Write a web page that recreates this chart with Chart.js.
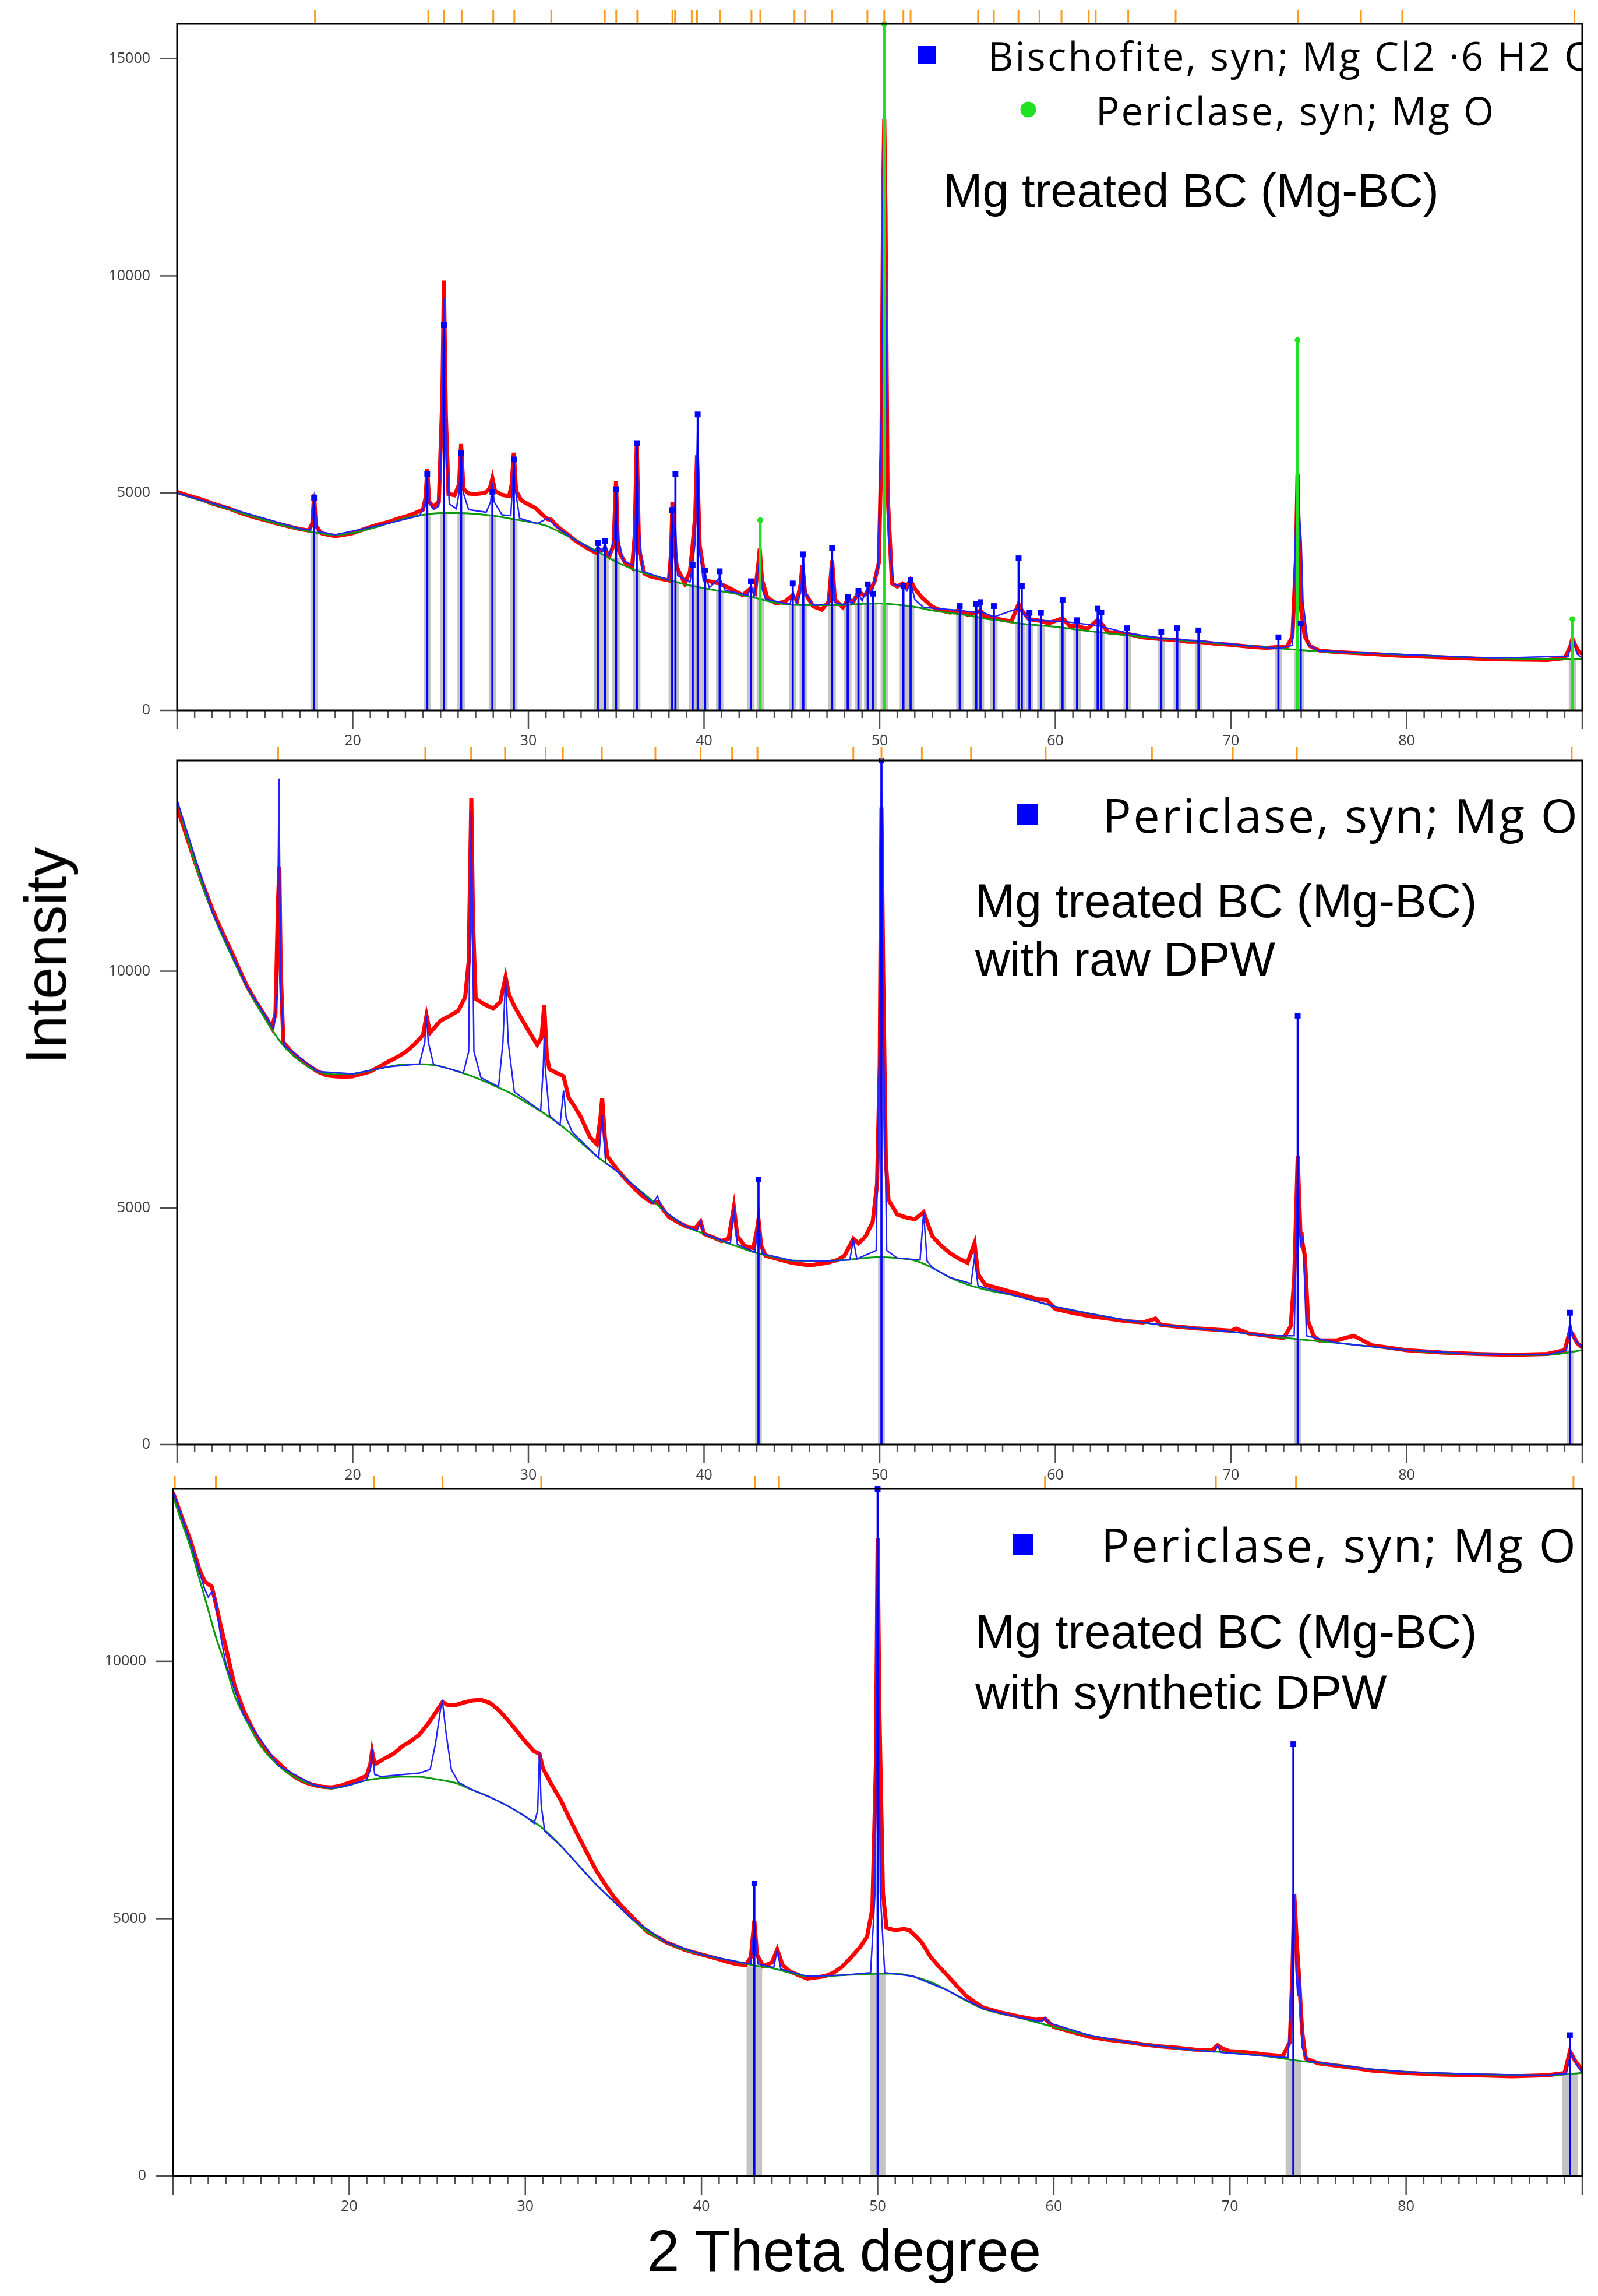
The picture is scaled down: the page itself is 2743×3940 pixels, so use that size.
<!DOCTYPE html>
<html>
<head>
<meta charset="utf-8">
<script src="https://cdn.jsdelivr.net/npm/chart.js@4.4.1/dist/chart.umd.min.js"></script>
<style>
  html, body { margin: 0; padding: 0; background: #fff; }
  #page { position: relative; width: 2743px; height: 3940px; overflow: hidden; background: #fff; }
  #page canvas { position: absolute; left: 0; }
  .title { position: absolute; font-family: 'Liberation Sans', Arial, sans-serif; font-size: 100px; color: #000; white-space: nowrap; line-height: 1; }
  #ytitle { left: 78px; top: 1640px; transform: translate(-50%, -50%) rotate(-90deg); }
  #xtitle { left: 1449px; top: 3812px; transform: translateX(-50%); }
</style>
</head>
<body>
<div id="page">
  <canvas id="xrd1"></canvas>
  <canvas id="xrd2"></canvas>
  <canvas id="xrd3"></canvas>
  <div class="title" id="ytitle">Intensity</div>
  <div class="title" id="xtitle">2 Theta degree</div>
</div>
<script>
// ---- panel 1 : Mg treated BC ----
var p1Obs = [[10,5030],[10.5,4960],[11,4900],[11.5,4840],[12,4760],[12.5,4700],[13,4640],[13.5,4560],[14,4490],[14.5,4430],[15,4380],[15.5,4320],[16,4270],[16.5,4220],[17,4170],[17.5,4140],[17.7,4300],[17.8,4970],[17.9,4250],[18.2,4080],[18.5,4050],[19,4010],[19.5,4040],[20,4080],[20.5,4150],[21,4220],[21.5,4280],[22,4330],[22.5,4400],[23,4460],[23.5,4530],[24,4620],[24.15,4900],[24.24,5560],[24.35,4800],[24.6,4680],[24.9,4800],[25.1,7200],[25.19,9890],[25.3,6800],[25.45,4980],[25.8,4950],[26.05,5200],[26.17,6130],[26.3,5100],[26.6,4990],[27,4980],[27.5,5000],[27.8,5100],[27.95,5340],[28.1,5050],[28.5,4960],[28.9,4930],[29.05,5200],[29.17,5930],[29.3,5050],[29.6,4830],[30,4740],[30.4,4660],[30.8,4500],[31.1,4400],[31.3,4390],[31.6,4250],[32,4120],[32.3,4030],[32.7,3900],[33.1,3800],[33.5,3700],[33.9,3620],[34.1,3680],[34.33,3700],[34.6,3550],[34.85,3800],[34.99,5280],[35.1,3700],[35.5,3400],[35.9,3280],[36.05,4000],[36.17,6170],[36.3,3700],[36.6,3150],[36.9,3090],[37.4,3040],[38,2990],[38.12,3600],[38.2,4790],[38.3,3800],[38.45,3300],[38.9,2920],[39.2,3200],[39.35,3800],[39.5,4500],[39.6,5870],[39.75,3800],[40.06,3000],[40.5,2950],[40.89,2920],[41.5,2800],[42.2,2650],[42.64,2800],[42.9,2700],[43.1,3400],[43.17,3720],[43.3,3000],[43.6,2600],[44.1,2460],[44.6,2500],[45.05,2650],[45.3,2520],[45.5,2900],[45.6,3350],[45.75,2700],[46.2,2400],[46.7,2320],[47.1,2500],[47.29,3450],[47.45,2550],[47.9,2370],[48.2,2550],[48.5,2500],[48.8,2730],[49.1,2650],[49.4,2730],[49.7,2950],[49.95,3400],[50.1,6000],[50.2,12000],[50.26,13600],[50.33,11500],[50.45,5000],[50.7,2920],[51,2850],[51.3,2920],[51.55,2850],[51.75,3000],[52,2800],[52.4,2600],[53,2380],[53.5,2300],[54,2250],[54.56,2300],[55,2200],[55.5,2250],[55.74,2300],[56,2150],[56.5,2130],[57,2080],[57.5,2050],[57.91,2450],[58.09,2300],[58.5,2100],[59.18,2060],[59.6,2000],[60.41,2120],[60.8,1950],[61.24,1950],[61.8,1870],[62.41,2080],[62.62,2000],[63,1800],[64.09,1760],[65,1680],[66.03,1640],[66.94,1620],[67.5,1580],[68.15,1580],[69,1540],[70,1510],[71,1470],[72,1440],[72.7,1460],[73.2,1470],[73.5,1700],[73.7,3500],[73.79,5450],[73.9,3200],[74,2300],[74.2,1700],[74.5,1480],[75,1380],[76,1340],[77,1320],[78,1300],[79,1270],[80,1250],[82,1220],[84,1190],[86,1170],[88,1160],[89,1200],[89.3,1450],[89.44,1650],[89.6,1500],[89.8,1350],[90,1300]];
var p1Bg = [[10,5000],[12,4750],[14,4500],[16,4260],[18,4080],[19,4040],[20,4080],[21,4180],[22,4300],[23,4420],[24,4500],[25,4540],[26,4540],[27,4520],[28,4480],[29,4410],[30,4340],[31,4250],[32,4060],[33,3860],[34,3640],[35,3420],[36,3240],[37,3110],[38,3000],[39,2890],[40,2810],[41,2740],[42,2670],[43,2580],[44,2480],[45,2430],[46,2420],[47,2420],[48,2425],[49,2450],[50,2460],[51,2430],[52,2380],[53,2300],[54,2240],[55,2190],[56,2110],[57,2060],[58,2000],[60,1925],[62,1820],[65,1690],[70,1520],[75,1360],[80,1280],[85,1200],[90,1175]];
var p1Fit = [[10,5000],[17,4180],[17.6,4150],[17.8,4900],[18,4120],[19,4040],[22,4300],[23.8,4480],[24.1,4700],[24.24,5400],[24.35,4800],[24.6,4620],[24.9,4700],[25.05,6000],[25.19,9500],[25.32,6000],[25.5,4750],[25.9,4640],[26.05,5000],[26.17,5900],[26.3,5000],[26.6,4620],[27.6,4560],[27.85,4800],[27.95,5250],[28.05,4800],[28.5,4500],[29,4480],[29.1,5200],[29.17,5800],[29.25,5100],[29.5,4420],[30.5,4300],[31.1,4420],[31.5,4250],[32.5,3960],[33.8,3660],[33.95,3800],[34.2,3650],[34.36,3850],[34.6,3560],[34.9,4000],[34.99,5100],[35.1,4000],[35.4,3450],[36,3330],[36.1,4500],[36.17,6000],[36.25,4500],[36.5,3200],[38,3000],[38.15,4300],[38.2,4700],[38.3,4000],[38.37,4300],[38.5,3100],[39.2,2950],[39.35,3350],[39.5,3900],[39.64,6700],[39.75,3700],[39.95,3000],[40.06,3150],[40.3,2820],[40.89,3050],[41.2,2760],[42.5,2650],[42.67,2900],[42.85,2620],[43.1,3300],[43.2,3600],[43.3,2800],[43.5,2560],[44.9,2440],[45.05,2750],[45.25,2470],[45.5,2700],[45.65,3450],[45.8,2700],[46.2,2420],[47.1,2440],[47.29,3600],[47.45,2480],[48,2430],[48.18,2580],[48.4,2440],[48.79,2700],[49,2520],[49.32,2850],[49.5,2700],[49.62,2800],[49.9,3300],[50.1,7000],[50.2,13000],[50.26,13500],[50.35,9000],[50.5,4000],[50.8,2900],[51.35,2850],[51.55,2750],[51.76,2950],[52,2550],[52.5,2370],[54.56,2300],[55.5,2250],[55.74,2280],[56.5,2150],[57.91,2350],[58.09,2250],[58.53,2080],[60.41,2050],[62.41,1950],[64.09,1780],[66.03,1660],[68.15,1600],[72.7,1420],[73.5,1500],[73.7,4500],[73.79,6100],[73.9,4500],[74,3900],[74.1,2500],[74.4,1500],[75,1370],[80,1280],[85,1200],[89.2,1250],[89.44,1700],[89.7,1300],[90,1200]];
var p1BisPos = [17.80,24.24,25.19,26.17,27.95,29.17,33.95,34.36,34.99,36.17,38.19,38.37,39.35,39.64,40.06,40.89,42.67,45.05,45.65,47.29,48.18,48.79,49.32,49.62,51.35,51.76,54.56,55.50,55.74,56.50,57.91,58.09,58.53,59.18,60.41,61.24,62.41,62.62,64.09,66.03,66.94,68.15,72.70,73.97];
var p1BisInt = [4890,5440,8880,5915,5030,5775,3850,3900,5090,6150,4610,5440,3350,6810,3220,3200,2970,2920,3590,3740,2610,2750,2900,2685,2865,2995,2400,2450,2490,2400,3500,2860,2245,2245,2535,2075,2340,2255,1890,1810,1890,1840,1680,2000];
var p1BisGray = [4120,4500,4540,4540,4480,4410,3660,3600,3500,3260,3000,2980,2890,2870,2810,2750,2640,2430,2420,2420,2425,2440,2455,2455,2430,2400,2230,2170,2150,2110,2000,1990,1970,1950,1910,1870,1820,1810,1740,1660,1630,1600,1420,1360];
var p1PerPos = [43.20,50.26,73.79,89.44];
var p1PerInt = [4375,15800,8520,2100];
var p1PerGray = [2580,2460,1360,1175];
var p1Marks = [17.85,24.3,25.2,26.2,28.0,29.2,31.3,34.35,35.0,36.2,38.2,38.35,39.3,39.6,40.9,42.7,43.2,45.15,45.75,47.3,49.3,50.26,51.35,51.76,55.6,56.5,57.9,59.1,60.35,61.9,62.3,64.15,66.85,73.8,77.4,79.75,89.55];

// ---- panel 2 : with raw DPW ----
var p2Obs = [[10,13460],[10.5,12900],[11,12330],[11.5,11800],[12,11310],[12.5,10880],[13,10490],[13.5,10070],[14,9670],[14.5,9350],[15,9060],[15.4,8800],[15.6,9100],[15.75,11500],[15.82,12200],[15.9,10000],[16.05,8500],[16.5,8300],[17,8140],[17.5,8000],[18,7880],[18.5,7800],[19,7780],[19.5,7770],[20,7780],[20.5,7830],[21,7880],[21.5,7980],[22,8085],[22.5,8180],[23,8290],[23.5,8450],[24,8650],[24.2,9060],[24.4,8700],[25,8955],[25.5,9050],[26,9160],[26.4,9450],[26.6,10200],[26.75,13660],[26.85,11000],[27,9415],[27.5,9300],[28,9210],[28.4,9350],[28.7,9880],[28.9,9500],[29.2,9260],[29.6,9000],[30,8750],[30.5,8445],[30.75,8600],[30.9,9285],[31.05,8200],[31.2,7930],[31.6,7850],[32,7780],[32.3,7320],[32.7,7100],[33,6910],[33.5,6500],[33.9,6345],[34.1,6900],[34.2,7320],[34.35,6500],[34.5,6090],[35,5835],[35.5,5620],[36,5425],[36.5,5250],[37,5120],[37.4,5120],[37.7,4950],[38,4810],[38.5,4700],[39,4605],[39.5,4570],[39.8,4710],[40,4450],[40.5,4380],[41,4300],[41.4,4350],[41.7,5015],[41.9,4400],[42.3,4200],[42.8,4150],[43,4500],[43.1,4760],[43.25,4200],[43.5,3990],[44,3940],[45,3840],[46,3785],[47,3840],[47.6,3900],[48,3990],[48.5,4350],[48.8,4250],[49.2,4400],[49.6,4700],[49.85,5500],[50,8000],[50.1,13460],[50.2,10000],[50.35,6000],[50.5,5170],[51,4860],[51.5,4800],[52,4760],[52.5,4910],[52.8,4600],[53,4400],[53.5,4200],[54,4045],[54.5,3930],[55,3840],[55.4,4250],[55.6,3600],[56,3380],[57,3275],[58,3175],[59,3070],[59.5,3060],[60,2865],[61,2780],[62,2710],[63,2660],[64,2610],[65,2580],[65.7,2660],[66,2530],[67,2490],[68,2455],[69,2430],[70,2405],[70.3,2450],[71,2350],[72,2300],[73,2250],[73.4,2500],[73.6,3500],[73.8,6090],[73.95,4500],[74.2,4000],[74.4,2600],[74.7,2300],[75,2200],[76,2200],[76.5,2250],[77,2300],[77.5,2200],[78,2100],[80,1995],[82,1945],[84,1915],[86,1895],[88,1915],[89,1995],[89.3,2405],[89.5,2300],[89.7,2150],[90,2045]];
var p2Bg = [[10,13610],[11,12300],[12,11250],[13,10400],[14,9650],[15,9000],[16,8450],[17,8100],[18,7880],[19,7820],[20,7830],[21,7900],[22,7980],[23,8030],[24,8035],[25,7990],[26,7880],[27,7750],[28,7590],[29,7420],[30,7200],[31,6970],[32,6700],[33,6380],[34,6060],[35,5785],[36,5475],[37,5170],[38,4860],[39,4605],[40,4450],[41,4300],[42,4170],[43,4045],[44,3960],[45,3890],[47,3880],[48,3900],[50,3960],[51,3940],[52,3890],[53,3735],[54,3530],[55,3380],[56,3275],[58,3120],[60,2915],[62,2765],[64,2630],[66,2530],[68,2455],[70,2385],[72,2300],[74,2220],[76,2150],[78,2070],[80,1995],[84,1915],[88,1895],[90,1995]];
var p2Fit = [[10,13610],[12,11250],[14,9650],[15.5,8780],[15.7,9500],[15.8,14070],[15.9,9500],[16.1,8430],[18,7880],[20,7830],[22,7980],[23.8,8040],[24.1,8500],[24.2,9060],[24.3,8500],[24.6,8030],[26.3,7850],[26.6,8300],[26.75,13400],[26.9,8300],[27.3,7750],[28.3,7560],[28.55,8500],[28.7,9880],[28.85,8500],[29.2,7450],[30.7,7050],[30.85,8000],[30.9,8600],[30.95,8000],[31.2,6950],[31.8,6750],[32,7480],[32.15,6900],[32.5,6600],[34,6050],[34.2,6950],[34.4,5950],[35,5785],[36,5475],[37.1,5100],[37.35,5250],[37.6,5000],[38,4860],[39,4605],[39.6,4520],[39.8,4700],[40,4450],[41.5,4250],[41.7,4950],[41.9,4230],[42.9,4060],[43.1,4760],[43.3,4030],[45,3890],[47,3880],[48.3,3900],[48.5,4330],[48.7,3920],[49.8,4100],[50,9000],[50.1,13800],[50.2,9000],[50.4,4100],[51,3940],[52.3,3900],[52.5,4900],[52.7,3880],[53,3735],[54,3530],[55.2,3400],[55.4,3950],[55.6,3350],[58,3120],[60,2915],[62,2765],[64,2630],[66,2530],[68,2455],[70,2385],[72,2300],[73.6,2300],[73.75,5000],[73.8,5800],[73.95,4200],[74.1,4400],[74.3,2300],[76,2150],[78,2070],[80,1995],[84,1915],[88,1895],[89.1,1990],[89.3,2600],[89.5,2250],[90,2045]];
var p2PerPos = [43.10,50.10,73.80,89.30];
var p2PerInt = [5600,14450,9060,2785];
var p2PerGray = [4045,3960,2220,1995];
var p2Marks = [15.75,24.13,26.74,28.67,30.98,31.96,34.18,37.23,39.8,41.6,43.04,48.5,50.1,52.4,55.2,59.45,65.5,70.1,73.75,89.4];

// ---- panel 3 : with synthetic DPW ----
var p3Obs = [[10,13280],[10.5,12800],[11,12340],[11.5,11780],[11.8,11550],[12,11500],[12.2,11450],[12.4,11165],[12.7,10700],[13,10270],[13.5,9520],[14,9050],[14.5,8700],[15,8390],[15.5,8180],[16,8020],[16.5,7860],[17,7735],[17.5,7650],[18,7595],[18.5,7560],[19,7550],[19.5,7580],[20,7640],[20.5,7700],[21,7780],[21.2,8000],[21.3,8250],[21.45,8000],[22,8110],[22.5,8200],[23,8345],[23.5,8450],[24,8580],[24.5,8800],[25,9050],[25.3,9210],[25.6,9150],[26,9145],[26.5,9200],[27,9240],[27.5,9250],[28,9190],[28.5,9050],[29,8860],[29.5,8650],[30,8440],[30.5,8250],[30.8,8205],[31,7920],[31.5,7600],[32,7310],[32.5,6950],[33,6610],[33.5,6280],[34,5950],[34.5,5680],[35,5430],[35.5,5230],[36,5055],[36.5,4880],[37,4730],[37.5,4640],[38,4540],[38.5,4470],[39,4400],[39.5,4350],[40,4305],[40.5,4260],[41,4210],[41.5,4160],[42,4115],[42.5,4100],[42.8,4250],[43,4960],[43.15,4300],[43.5,4075],[44,4150],[44.3,4400],[44.6,4100],[45,3975],[46,3835],[47,3880],[47.5,3950],[48,4070],[48.5,4250],[49,4445],[49.4,4650],[49.7,5200],[49.9,8000],[50,12390],[50.1,9000],[50.3,5500],[50.5,4820],[51,4775],[51.5,4800],[51.8,4775],[52.2,4650],[52.5,4540],[53,4260],[53.5,4060],[54,3880],[54.5,3690],[55,3505],[55.5,3380],[56,3270],[57,3175],[58,3100],[59,3035],[59.5,3055],[60,2895],[61,2800],[62,2705],[63,2650],[64,2610],[65,2560],[66,2520],[67,2490],[68,2455],[69,2450],[69.3,2540],[69.6,2470],[70,2425],[71,2400],[72,2360],[73,2330],[73.4,2600],[73.55,4000],[73.65,5480],[73.8,4500],[73.9,3975],[74.1,2800],[74.3,2285],[75,2190],[76,2145],[77,2100],[78,2050],[80,2000],[82,1970],[84,1955],[86,1935],[88,1955],[89,2000],[89.3,2425],[89.6,2235],[90,2050]];
var p3Bg = [[10,13200],[10.5,12700],[11,12200],[11.5,11600],[12,11000],[12.4,10510],[13,9900],[13.5,9330],[14,8960],[15,8345],[16,7970],[17,7735],[18,7595],[19,7530],[20,7595],[21,7690],[22,7735],[23,7760],[24,7755],[25,7705],[26,7640],[27,7500],[28,7360],[29,7190],[30,6985],[31,6750],[32,6420],[33,6045],[34,5670],[35,5340],[36,5010],[37,4730],[38,4540],[39,4400],[40,4305],[41,4230],[42,4165],[43,4090],[44,4040],[45,3950],[46,3880],[47,3880],[48,3900],[50,3930],[51,3930],[52,3880],[53,3770],[54,3600],[55,3410],[56,3250],[58,3080],[60,2895],[62,2735],[64,2610],[66,2520],[68,2445],[70,2395],[72,2330],[74,2235],[76,2160],[78,2075],[80,2020],[84,1975],[88,1955],[90,2000]];
var p3Fit = [[10,13300],[11,12300],[11.8,11400],[12,11250],[12.2,11350],[12.4,11200],[12.7,10500],[13,9950],[14,8960],[16,7970],[18,7595],[19,7530],[20,7595],[21,7700],[21.2,7900],[21.3,8300],[21.45,7800],[21.8,7760],[23,7800],[24,7830],[24.6,7900],[24.9,8400],[25.2,9100],[25.3,9210],[25.5,8600],[25.8,7900],[26.2,7650],[27,7500],[28,7360],[29,7190],[30,6985],[30.5,6850],[30.7,7100],[30.8,8230],[30.9,7200],[31.1,6700],[32,6420],[34,5670],[36,5010],[38,4540],[40,4305],[42,4165],[42.8,4120],[43,4900],[43.2,4120],[44.1,4050],[44.3,4400],[44.5,4020],[46,3880],[48,3900],[49.6,3950],[49.85,5500],[50,12390],[50.15,5500],[50.4,3950],[52,3880],[54,3600],[56,3250],[58,3080],[59.3,3000],[59.5,3080],[59.7,2980],[62,2735],[64,2610],[66,2520],[68,2445],[69.1,2410],[69.3,2530],[69.5,2400],[72,2330],[73.3,2300],[73.55,4000],[73.65,5480],[73.75,4000],[73.85,3500],[73.95,4000],[74.1,2500],[74.4,2230],[76,2160],[78,2075],[80,2020],[84,1975],[88,1955],[89.1,1990],[89.35,2400],[89.7,2150],[90,2000]];
var p3PerPos = [43.00,50.00,73.60,89.30];
var p3PerInt = [5685,13350,8390,2735];
var p3PerGray = [4070,3930,2235,2000];
var p3Marks = [10.1,12.43,21.4,25.3,30.9,43.05,44.4,59.5,69.2,73.75,89.5];

// tick labels
var xLabels = [20, 30, 40, 50, 60, 70, 80];
var yLabels = [0, 5000, 10000, 15000];

var tickFont = { family: "'Open Sans', 'Noto Sans', sans-serif", size: 25 };
var legendFamily = "'Open Sans', 'Noto Sans', sans-serif";
var labelFamily = "'Liberation Sans', Arial, sans-serif";

function xy(pairs) {
  return pairs.map(function (p) { return { x: p[0], y: p[1] }; });
}
function sticks(pos, val) {
  return pos.map(function (x, i) { return { x: x, y: val[i] }; });
}

// frame, ticks, orange reflection marks and the text inside the plot
var framePlugin = {
  id: 'frame',
  afterDraw: function (chart) {
    var ctx = chart.ctx;
    var a = chart.chartArea;
    var xs = chart.scales.x;
    var ys = chart.scales.y;
    var o = chart.options.plugins.frame;
    ctx.save();
    ctx.strokeStyle = '#505050';
    ctx.lineWidth = 2.5;
    xs.ticks.forEach(function (t) {
      var px = xs.getPixelForValue(t.value);
      var len = t.value % 10 === 0 ? 32 : 13;
      ctx.beginPath();
      ctx.moveTo(px, a.bottom);
      ctx.lineTo(px, a.bottom + len);
      ctx.stroke();
    });
    ys.ticks.forEach(function (t) {
      var py = ys.getPixelForValue(t.value);
      ctx.beginPath();
      ctx.moveTo(a.left - 29, py);
      ctx.lineTo(a.left, py);
      ctx.stroke();
    });
    // orange marks above the plot
    ctx.strokeStyle = '#ff9a1a';
    ctx.lineWidth = 3;
    o.marks.forEach(function (m) {
      var px = xs.getPixelForValue(m);
      ctx.beginPath();
      ctx.moveTo(px, a.top - 23);
      ctx.lineTo(px, a.top);
      ctx.stroke();
    });
    ctx.strokeStyle = '#000';
    ctx.lineWidth = 3;
    ctx.strokeRect(a.left, a.top, a.right - a.left, a.bottom - a.top);

    // legend and sample name, clipped by the frame
    ctx.beginPath();
    ctx.rect(a.left, a.top, a.right - a.left, a.bottom - a.top);
    ctx.clip();
    o.symbols.forEach(function (s) {
      ctx.fillStyle = s.color;
      ctx.beginPath();
      if (s.shape === 'circle') {
        ctx.arc(s.x, s.y - o.top, s.size / 2, 0, Math.PI * 2);
      } else {
        ctx.rect(s.x - s.size / 2, s.y - o.top - s.size / 2, s.size, s.size);
      }
      ctx.fill();
    });
    ctx.fillStyle = '#000';
    ctx.textBaseline = 'alphabetic';
    ctx.textAlign = 'left';
    o.texts.forEach(function (t) {
      ctx.font = t.font;
      if ('letterSpacing' in ctx) ctx.letterSpacing = (t.spacing || 0) + 'px';
      ctx.fillText(t.text, t.x, t.y - o.top);
    });
    ctx.restore();
  }
};

function makePanel(id, p) {
  var canvas = document.getElementById(id);
  var padTop = 36;
  var axisH = 80;
  var canvasTop = p.top - padTop;
  canvas.width = 2743;
  canvas.height = padTop + (p.bottom - p.top) + axisH;
  canvas.style.top = canvasTop + 'px';

  var datasets = [
    { type: 'bar', data: sticks(p.pos, p.gray), backgroundColor: '#c4c4c4', barThickness: p.grayWidth, grouped: false, order: 9 },
    { type: 'line', data: xy(p.obs), borderColor: '#ff0000', borderWidth: 7, pointRadius: 0, tension: 0, order: 8 },
    { type: 'line', data: xy(p.bg), borderColor: '#0a9a0a', borderWidth: 3, pointRadius: 0, cubicInterpolationMode: 'monotone', order: 7 },
    { type: 'line', data: xy(p.fit), borderColor: '#2222ff', borderWidth: 2.5, pointRadius: 0, tension: 0, order: 6 },
    { type: 'bar', data: sticks(p.pos, p.stick), backgroundColor: '#0000ff', barThickness: 3, grouped: false, order: 4 },
    { type: 'line', data: sticks(p.pos, p.stick), showLine: false, pointStyle: 'rect', pointRadius: 7, pointBackgroundColor: '#0000ff', pointBorderWidth: 0, clip: false, order: 1 }
  ];
  if (p.greenPos) {
    datasets.push({ type: 'bar', data: sticks(p.greenPos, p.greenGray), backgroundColor: '#c4c4c4', barThickness: p.grayWidth, grouped: false, order: 9 });
    datasets.push({ type: 'bar', data: sticks(p.greenPos, p.greenInt), backgroundColor: '#22e022', barThickness: 4, grouped: false, order: 3 });
    datasets.push({ type: 'line', data: sticks(p.greenPos, p.greenInt), showLine: false, pointStyle: 'circle', pointRadius: 5, pointBackgroundColor: '#22e022', pointBorderWidth: 0, clip: false, order: 1 });
  }

  return new Chart(canvas, {
    type: 'line',
    data: { datasets: datasets },
    options: {
      responsive: false,
      animation: false,
      devicePixelRatio: 1,
      layout: { padding: { top: padTop, right: 2743 - p.right, left: 0, bottom: 0 } },
      plugins: {
        legend: { display: false },
        tooltip: { enabled: false },
        frame: { marks: p.marks, texts: p.texts, symbols: p.symbols, top: canvasTop }
      },
      scales: {
        x: {
          type: 'linear', min: 10, max: 90, offset: false,
          grid: { display: false, drawTicks: false },
          border: { display: false },
          ticks: {
            stepSize: 1, autoSkip: false, maxRotation: 0, padding: 38,
            font: tickFont, color: '#3c3c3c',
            callback: function (v) { return xLabels.indexOf(v) >= 0 ? String(v) : ''; }
          },
          afterFit: function (s) {
            s.height = axisH;
            s.paddingLeft = 0;
            s.paddingRight = 0;
          }
        },
        y: {
          type: 'linear', min: 0, max: p.ymax,
          grid: { display: false, drawTicks: false },
          border: { display: false },
          ticks: {
            autoSkip: false, padding: 46, font: tickFont, color: '#3c3c3c',
            callback: function (v) { return String(v); }
          },
          afterBuildTicks: function (s) {
            s.ticks = yLabels.filter(function (v) { return v <= p.ymax; }).map(function (v) { return { value: v }; });
          },
          afterFit: function (s) {
            s.width = p.left;
            s.paddingTop = 0;
            s.paddingBottom = 0;
          }
        }
      }
    },
    plugins: [framePlugin]
  });
}

var chart1 = makePanel('xrd1', {
  top: 41, bottom: 1219, left: 304, right: 2716, ymax: 15800,
  obs: p1Obs, bg: p1Bg, fit: p1Fit,
  pos: p1BisPos, stick: p1BisInt, gray: p1BisGray, grayWidth: 12,
  greenPos: p1PerPos, greenInt: p1PerInt, greenGray: p1PerGray,
  marks: p1Marks,
  symbols: [
    { shape: 'rect', x: 1591, y: 94, size: 30, color: '#0000ff' },
    { shape: 'circle', x: 1765, y: 188, size: 27, color: '#22e022' }
  ],
  texts: [
    { text: 'Bischofite, syn; Mg Cl2 \u00b76 H2 O', x: 1696, y: 121, font: '67px ' + legendFamily, spacing: 3.3 },
    { text: 'Periclase, syn; Mg O', x: 1881, y: 215, font: '67px ' + legendFamily, spacing: 3.3 },
    { text: 'Mg treated BC (Mg-BC)', x: 1619, y: 355, font: '81px ' + labelFamily }
  ]
});

var chart2 = makePanel('xrd2', {
  top: 1305, bottom: 2479, left: 304, right: 2716, ymax: 14450,
  obs: p2Obs, bg: p2Bg, fit: p2Fit,
  pos: p2PerPos, stick: p2PerInt, gray: p2PerGray, grayWidth: 11,
  marks: p2Marks,
  symbols: [{ shape: 'rect', x: 1763, y: 1397, size: 36, color: '#0000ff' }],
  texts: [
    { text: 'Periclase, syn; Mg O', x: 1893, y: 1429, font: '81px ' + legendFamily, spacing: 3.4 },
    { text: 'Mg treated BC (Mg-BC)', x: 1674, y: 1574, font: '82px ' + labelFamily },
    { text: 'with raw DPW', x: 1674, y: 1674, font: '82px ' + labelFamily }
  ]
});

var chart3 = makePanel('xrd3', {
  top: 2555, bottom: 3734, left: 297, right: 2716, ymax: 13350,
  obs: p3Obs, bg: p3Bg, fit: p3Fit,
  pos: p3PerPos, stick: p3PerInt, gray: p3PerGray, grayWidth: 26,
  marks: p3Marks,
  symbols: [{ shape: 'rect', x: 1756, y: 2650, size: 36, color: '#0000ff' }],
  texts: [
    { text: 'Periclase, syn; Mg O', x: 1890, y: 2681, font: '81px ' + legendFamily, spacing: 3.4 },
    { text: 'Mg treated BC (Mg-BC)', x: 1674, y: 2828, font: '82px ' + labelFamily },
    { text: 'with synthetic DPW', x: 1674, y: 2932, font: '82px ' + labelFamily }
  ]
});
</script>
</body>
</html>
